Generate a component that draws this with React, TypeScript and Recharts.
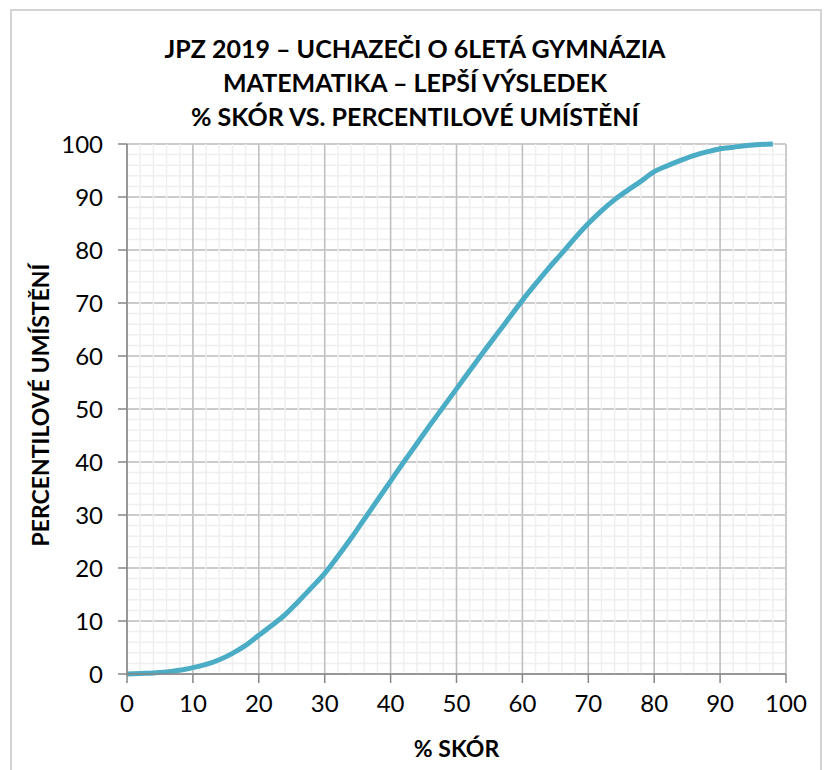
import React from "react";
import { LineChart, Line, XAxis, YAxis, CartesianGrid } from "recharts";

const scorePct = [0, 2, 4, 6, 8, 10, 12, 14, 16, 18, 20, 22, 24, 26, 28, 30, 32, 34, 36, 38, 40, 42, 44, 46, 48, 50, 52, 54, 56, 58, 60, 62, 64, 66, 68, 70, 72, 74, 76, 78, 80, 82, 84, 86, 88, 90, 92, 94, 96, 98];
const percentile = [0, 0.1, 0.2, 0.4, 0.7, 1.2, 1.8, 2.7, 3.9, 5.4, 7.3, 9.2, 11.2, 13.7, 16.3, 19.0, 22.2, 25.6, 29.2, 32.8, 36.4, 40.0, 43.5, 47.0, 50.4, 53.8, 57.2, 60.6, 63.9, 67.2, 70.5, 73.6, 76.6, 79.4, 82.3, 85.0, 87.4, 89.5, 91.3, 93.0, 94.8, 95.9, 96.9, 97.8, 98.5, 99.1, 99.4, 99.7, 99.9, 100];

const majorTicks = [0, 10, 20, 30, 40, 50, 60, 70, 80, 90, 100];
const minorTicks = [0, 2, 4, 6, 8, 10, 12, 14, 16, 18, 20, 22, 24, 26, 28, 30, 32, 34, 36, 38, 40, 42, 44, 46, 48, 50, 52, 54, 56, 58, 60, 62, 64, 66, 68, 70, 72, 74, 76, 78, 80, 82, 84, 86, 88, 90, 92, 94, 96, 98, 100];

const titleLines = [
  "JPZ 2019 – UCHAZEČI O 6LETÁ GYMNÁZIA",
  "MATEMATIKA – LEPŠÍ VÝSLEDEK",
  "% SKÓR VS. PERCENTILOVÉ UMÍSTĚNÍ",
];
const xLabel = "% SKÓR";
const yLabel = "PERCENTILOVÉ UMÍSTĚNÍ";

const data = scorePct.map((s, i) => ({ s, p: percentile[i] }));

const FONT = "Lato, 'Open Sans', sans-serif";

const minorV = (props: any) => {
  const sc = props?.xAxis?.scale;
  if (sc && typeof sc === "function") return minorTicks.map((v) => sc(v));
  if (sc && typeof sc.map === "function") return minorTicks.map((v) => sc.map(v));
  const o = props.offset;
  return minorTicks.map((v) => o.left + (o.width * v) / 100);
};
const minorH = (props: any) => {
  const sc = props?.yAxis?.scale;
  if (sc && typeof sc === "function") return minorTicks.map((v) => sc(v));
  if (sc && typeof sc.map === "function") return minorTicks.map((v) => sc.map(v));
  const o = props.offset;
  return minorTicks.map((v) => o.top + o.height * (1 - v / 100));
};

export default function App() {
  return (
    <div style={{ position: "absolute", left: 0, top: 0, width: 825, height: 770, background: "#fff", overflow: "hidden", fontFamily: FONT }}>
      <div style={{ position: "absolute", left: 10, top: 9, width: 812, height: 800, border: "2px solid #d4d4d4", boxSizing: "border-box" }} />
      {titleLines.map((t, i) => (
        <div key={i} style={{ position: "absolute", left: 0, width: 830, textAlign: "center", top: 34 + i * 34, fontSize: 25, fontWeight: 700, color: "#000", lineHeight: "28px" }}>{t}</div>
      ))}
      <div style={{ position: "absolute", left: 127, width: 659, textAlign: "center", top: 735, fontSize: 23, fontWeight: 700, lineHeight: "26px" }}>{xLabel}</div>
      <div style={{ position: "absolute", left: 40, top: 405, width: 0, height: 0 }}>
        <div style={{ position: "absolute", transform: "translate(-50%, -50%) rotate(-90deg)", whiteSpace: "nowrap", fontSize: 23, fontWeight: 700, lineHeight: "26px" }}>{yLabel}</div>
      </div>
      <div style={{ position: "absolute", left: 0, top: 0 }}>
        <LineChart width={825} height={770} data={data} margin={{ top: 144, right: 39, bottom: 66, left: 67 }}>
          <CartesianGrid stroke="#efefef" strokeWidth={1.5} vertical={false} horizontalCoordinatesGenerator={minorH} syncWithTicks={false} />
          <CartesianGrid stroke="#bfbfbf" strokeWidth={1.5} vertical={false} />
          <CartesianGrid stroke="#efefef" strokeWidth={1.5} horizontal={false} verticalCoordinatesGenerator={minorV} syncWithTicks={false} />
          <CartesianGrid stroke="#bfbfbf" strokeWidth={1.5} horizontal={false} />
          <XAxis
            dataKey="s"
            type="number"
            domain={[0, 100]}
            ticks={majorTicks}
            height={30}
            tickSize={9}
            tickMargin={12}
            axisLine={{ stroke: "#868686", strokeWidth: 1.5 }}
            tickLine={{ stroke: "#868686", strokeWidth: 1.5 }}
            tick={{ fill: "#000", fontSize: 24, fontFamily: FONT }}
            interval={0}
          />
          <YAxis
            type="number"
            domain={[0, 100]}
            ticks={majorTicks}
            width={60}
            tickSize={9}
            tickMargin={15}
            axisLine={{ stroke: "#868686", strokeWidth: 1.5 }}
            tickLine={{ stroke: "#868686", strokeWidth: 1.5 }}
            tick={{ fill: "#000", fontSize: 24, fontFamily: FONT }}
            interval={0}
          />
          <Line type="monotone" dataKey="p" stroke="#4bacc6" strokeWidth={5} dot={false} isAnimationActive={false} />
        </LineChart>
      </div>
    </div>
  );
}
